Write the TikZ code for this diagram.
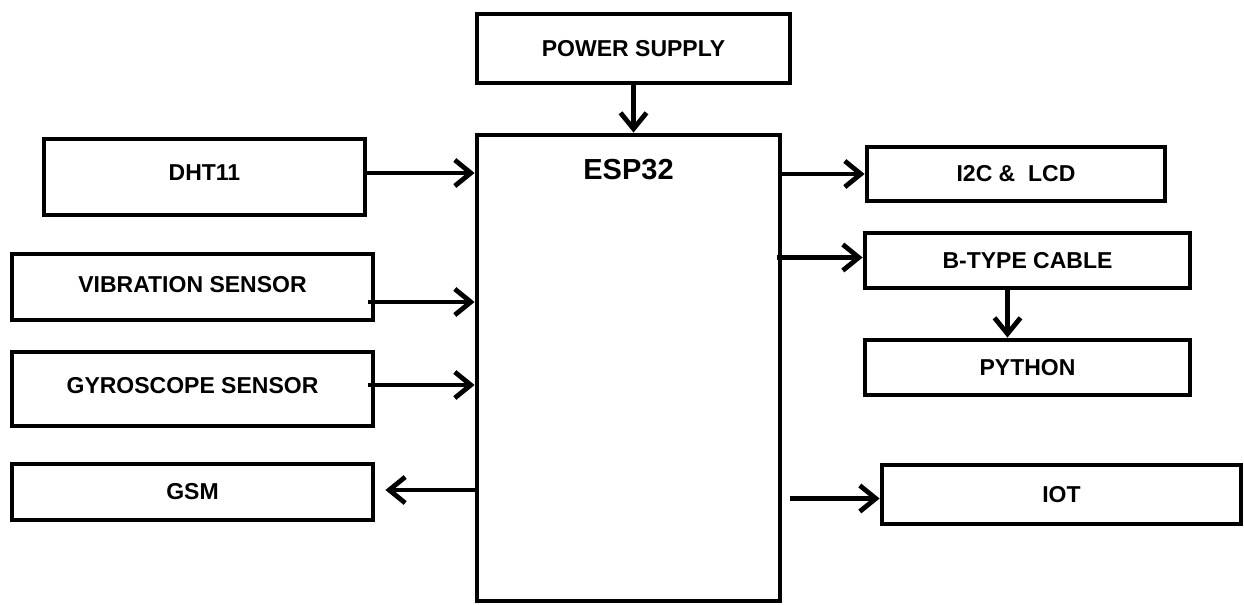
\documentclass[tikz,border=0pt]{standalone}
\usepackage{fontspec}
\setmainfont{Liberation Sans}
\usetikzlibrary{calc,arrows.meta,positioning}

\begin{document}
\begin{tikzpicture}[
  x=0.5pt, y=-0.5pt,
  every node/.style={font=\bfseries\fontsize{11.5}{13}\selectfont},
  blk/.style={draw, line width=2.4pt, inner sep=0pt},
  conn/.style={->, line width=2.4pt},
  >={Straight Barb[length=8pt,width=13pt]}]
  \useasboundingbox (0,0) rectangle (1244,605);
  % controller and supply
  \node[blk, minimum width=156.5pt, minimum height=34.5pt] (pwr) at (633.5,48.5) {POWER SUPPLY};
  \node[blk, minimum width=151.5pt, minimum height=233pt,
        label={[anchor=north, inner sep=0pt, yshift=-13pt,
                font=\bfseries\fontsize{14.5}{16}\selectfont]north:ESP32}] (esp) at (628.5,368) {};
  % sensors and GSM on the left
  \node[blk, minimum width=160.5pt, minimum height=38pt, text depth=4pt] (dht)  at (204.5,177) {DHT11};
  \node[blk, minimum width=180.5pt, minimum height=33pt, text depth=3pt] (vib)  at (192.5,287) {VIBRATION SENSOR};
  \node[blk, minimum width=180.5pt, minimum height=37pt, text depth=4pt] (gyro) at (192.5,389) {GYROSCOPE SENSOR};
  \node[blk, minimum width=180.5pt, minimum height=28pt] (gsm)  at (192.5,492) {GSM};
  % outputs on the right
  \node[blk, minimum width=149pt, minimum height=27pt] (lcd)   at (1016,174)    {I2C \&\ \ LCD};
  \node[blk, minimum width=162.5pt, minimum height=27.5pt] (cable) at (1027.5,260.5) {B-TYPE CABLE};
  \node[blk, minimum width=162.5pt, minimum height=27.5pt] (py)    at (1027.5,367.5) {PYTHON};
  \node[blk, minimum width=179.5pt, minimum height=29.5pt] (iot)   at (1061.5,494.5) {IOT};
  % connector end points
  \coordinate (dhtout)  at ($(dht.east)+(0,-4)$);
  \coordinate (vibout)  at ($(vib.east)+(-7,15)$);
  \coordinate (gyroout) at ($(gyro.east)+(-7,-4)$);
  \coordinate (gsmin)   at ($(gsm.east)+(10,-2)$);
  \coordinate (cabout)  at ($(esp.east |- cable)+(-5,-3)$);
  \coordinate (iotout)  at ($(esp.east |- iot)+(8,4)$);
  \coordinate (cabdown) at ($(cable.south)+(-20,0)$);
  \draw[conn] (pwr.south) -- (pwr.south |- esp.north);
  \draw[conn] (dhtout) -- (dhtout -| esp.west);
  \draw[conn] (vibout) -- (vibout -| esp.west);
  \draw[conn] (gyroout) -- (gyroout -| esp.west);
  \draw[conn] (gsmin -| esp.west) -- (gsmin);
  \draw[conn] (esp.east |- lcd) -- (lcd.west);
  \draw[conn] (cabout) -- (cabout -| cable.west);
  \draw[conn] (cabdown) -- (cabdown |- py.north);
  \draw[conn] (iotout) -- (iotout -| iot.west);
\end{tikzpicture}
\end{document}
